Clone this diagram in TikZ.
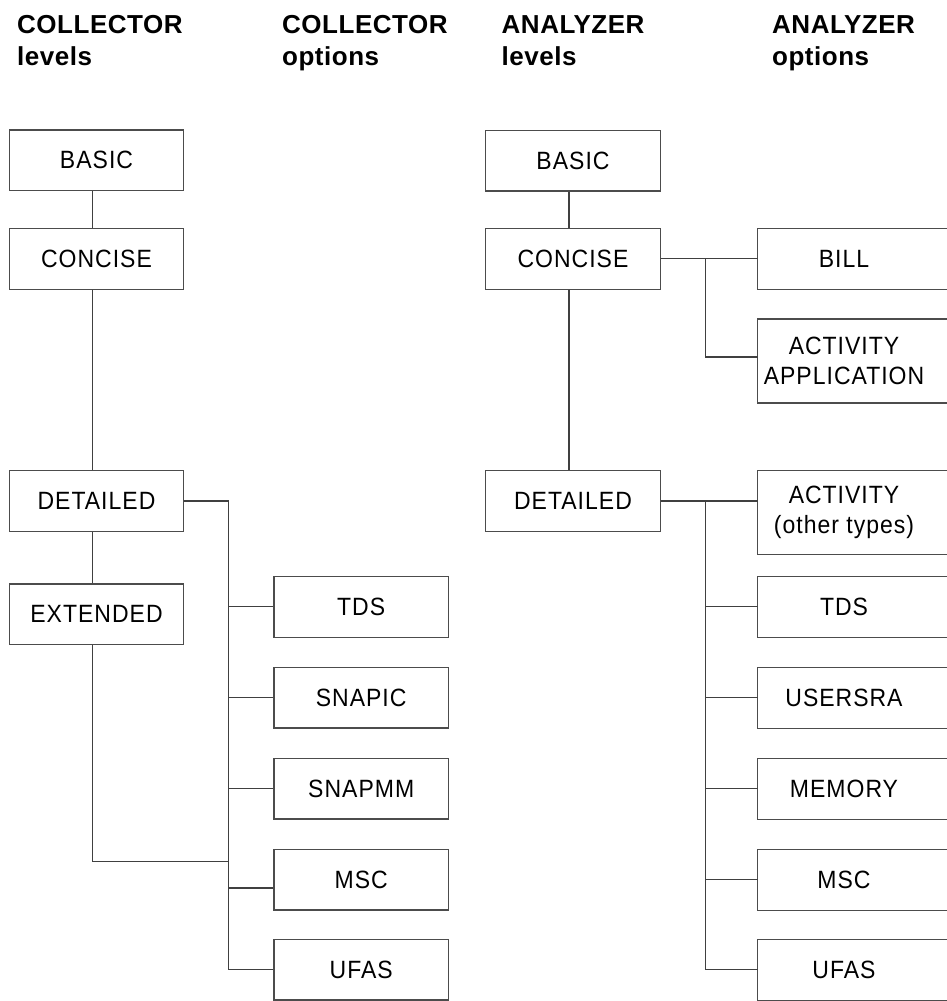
\documentclass[tikz,border=0pt]{standalone}
\usepackage{fontspec}
\setmainfont{Liberation Sans}
\newfontfamily\boxfont[FakeStretch=0.92,LetterSpace=4]{Liberation Sans}
\newfontfamily\headfont[LetterSpace=2]{Liberation Sans}
\begin{document}
\begin{tikzpicture}[x=1pt,y=-1pt,
  lvl/.style={draw=black!70, line width=1.3pt, minimum width=174.4pt, minimum height=60.7pt,
    inner sep=0pt, align=center, font=\boxfont\fontsize{25}{30.5}\selectfont},
  ropt/.style={draw=none, minimum width=172.6pt, minimum height=60.7pt,
    inner sep=0pt, align=center, font=\boxfont\fontsize{25}{30.5}\selectfont},
  frame/.style={draw=black!70, line width=1.3pt},
  link/.style={draw=black!75, line width=1.3pt},
  head/.style={inner sep=0pt, anchor=north west, align=left,
    font=\headfont\bfseries\fontsize{26}{32.4}\selectfont}]
\useasboundingbox (0,0) rectangle (946,1001);
% headings
\node[head] (h1) at (17,15) {COLLECTOR\\levels};
\node[head] (h2) at (282,15) {COLLECTOR\\options};
\node[head] (h3) at (501.5,15) {ANALYZER\\levels};
\node[head] (h4) at (772,15) {ANALYZER\\options};
% collector levels
\node[lvl] (lb) at (96.5,160.3) {BASIC};
\node[lvl] (lc) at (96.5,258.8) {CONCISE};
\node[lvl] (ld) at (96.5,501) {DETAILED};
\node[lvl] (le) at (96.5,614.3) {EXTENDED};
% collector options
\node[lvl] (ltds) at (361.2,606.8) {TDS};
\node[lvl] (lsnapic) at (361.2,697.7) {SNAPIC};
\node[lvl] (lsnapmm) at (361.2,788.7) {SNAPMM};
\node[lvl] (lmsc) at (361.2,879.7) {MSC};
\node[lvl] (lufas) at (361.2,969.7) {UFAS};
% analyzer levels
\node[lvl] (rb) at (573,160.5) {BASIC};
\node[lvl] (rc) at (573,258.8) {CONCISE};
\node[lvl] (rd) at (573,501) {DETAILED};
% analyzer options
\node[ropt] (rbill) at (844,258.8) {BILL};
\node[ropt, minimum height=83.4pt] (rapp) at (844,361) {ACTIVITY\\APPLICATION};
\node[ropt, minimum height=83.3pt] (rother) at (844,512.3) {ACTIVITY\\(other types)};
\node[ropt] (rtds) at (844,606.8) {TDS};
\node[ropt] (rusersra) at (844,697.7) {USERSRA};
\node[ropt] (rmemory) at (844,788.7) {MEMORY};
\node[ropt] (rmsc) at (844,879.7) {MSC};
\node[ropt] (rufas) at (844,969.7) {UFAS};
\coordinate (redge) at (950,0);
\foreach \n in {rbill,rapp,rother,rtds,rusersra,rmemory,rmsc,rufas}{
  \draw[frame] (\n.north west -| redge) -- (\n.north west) -- (\n.south west) -- (\n.south west -| redge);
}
% collector connectors
\coordinate (lbus) at (228.3,0);
\coordinate (lextj) at (228.3,861.3);
\coordinate (lmscj) at (228.3,888);
\draw[link] ([xshift=-3.8pt]lb.south) -- ([xshift=-3.8pt]lc.north);
\draw[link] ([xshift=-3.8pt]lc.south) -- ([xshift=-3.8pt]ld.north);
\draw[link] ([xshift=-3.8pt]ld.south) -- ([xshift=-3.8pt]le.north);
\draw[link] ([xshift=-3.8pt]le.south) |- (lextj);
\draw[link] (ld.east) -- (ld.east -| lbus) |- (lufas.west);
\foreach \n in {ltds,lsnapic,lsnapmm}{
  \draw[link] (\n.west -| lbus) -- (\n.west);
}
\draw[link] (lmscj) -- (lmscj -| lmsc.west);
% analyzer connectors
\coordinate (rbus) at (705.7,0);
\draw[link] ([xshift=-4pt]rb.south) -- ([xshift=-4pt]rc.north);
\draw[link] ([xshift=-4pt]rc.south) -- ([xshift=-4pt]rd.north);
\draw[link] (rc.east) -- (rbill.west);
\draw[link] (rc.east -| rbus) |- ([yshift=4pt]rapp.west);
\draw[link] (rd.east) -- (rd.east -| rother.west);
\draw[link] (rd.east -| rbus) |- (rufas.west);
\foreach \n in {rtds,rusersra,rmemory,rmsc}{
  \draw[link] (\n.west -| rbus) -- (\n.west);
}
\end{tikzpicture}
\end{document}
